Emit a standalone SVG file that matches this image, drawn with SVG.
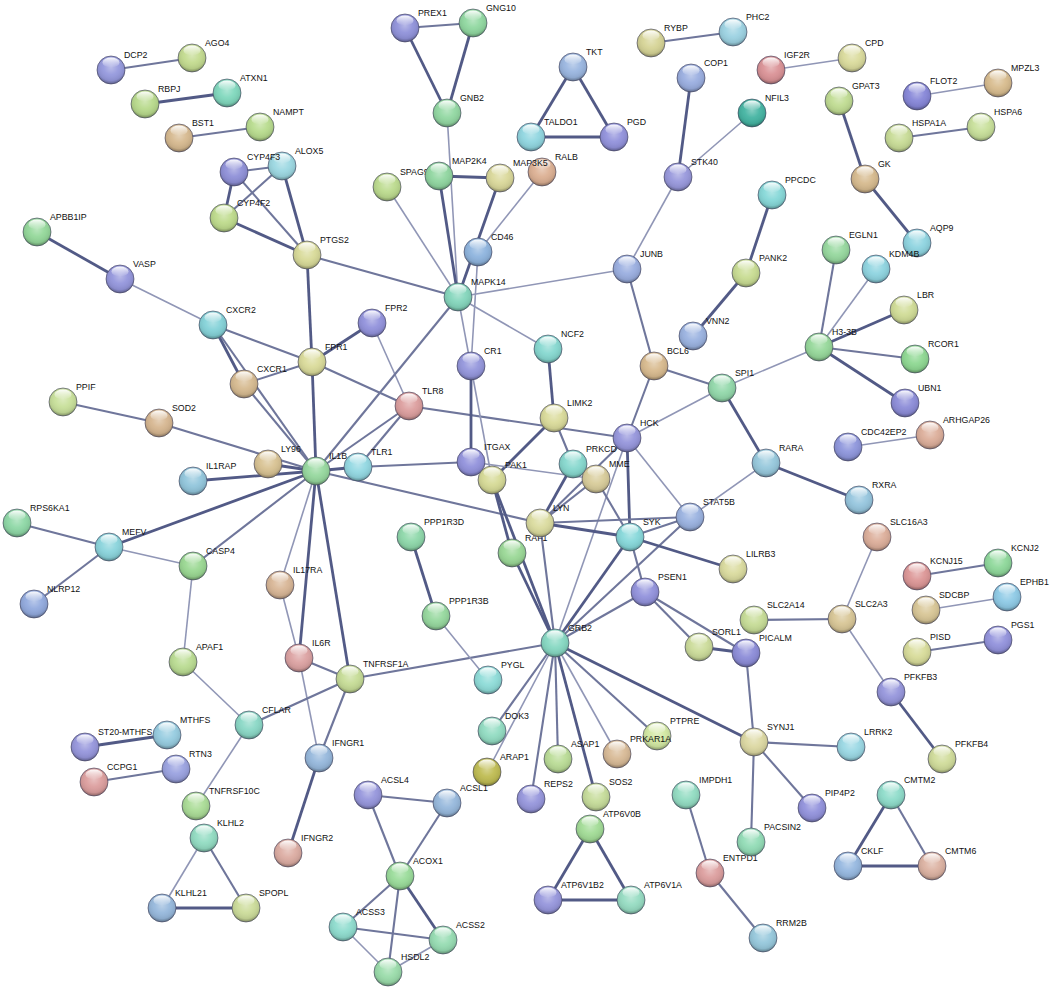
<svg xmlns="http://www.w3.org/2000/svg" xmlns:xlink="http://www.w3.org/1999/xlink" width="1052" height="992" viewBox="0 0 1052 992">
<style>
.s{stroke:#9096b6;stroke-width:1.6}
.m{stroke:#6f769b;stroke-width:2.1}
.t{stroke:#525a86;stroke-width:2.8}
text{font-family:"Liberation Sans",Arial,sans-serif;font-size:8.8px;fill:#111}
</style>
<defs>
<radialGradient id="shade" cx="50%" cy="40%" r="60%">
<stop offset="0" stop-color="#fff" stop-opacity="0.35"/>
<stop offset="0.45" stop-color="#fff" stop-opacity="0.05"/>
<stop offset="0.8" stop-color="#000" stop-opacity="0.08"/>
<stop offset="1" stop-color="#000" stop-opacity="0.38"/>
</radialGradient>
<linearGradient id="hl" x1="0" y1="0" x2="0" y2="1">
<stop offset="0" stop-color="#fff" stop-opacity="0.95"/>
<stop offset="1" stop-color="#fff" stop-opacity="0"/>
</linearGradient>
<g id="gl"><circle r="14" fill="url(#shade)" stroke="#3e3e58" stroke-opacity="0.6" stroke-width="1"/><ellipse cy="-7.5" rx="8.5" ry="5" fill="url(#hl)"/></g>
</defs>
<rect width="1052" height="992" fill="#fff"/>
<g id="edges" fill="none">
<line class="m" x1="111" y1="70" x2="192" y2="58"/>
<line class="t" x1="145" y1="104" x2="227" y2="93"/>
<line class="m" x1="179" y1="138" x2="260" y2="127"/>
<line class="m" x1="234" y1="172" x2="282" y2="166"/>
<line class="t" x1="234" y1="172" x2="224" y2="218"/>
<line class="m" x1="234" y1="172" x2="307" y2="255"/>
<line class="m" x1="282" y1="166" x2="224" y2="218"/>
<line class="t" x1="282" y1="166" x2="307" y2="255"/>
<line class="t" x1="224" y1="218" x2="307" y2="255"/>
<line class="m" x1="307" y1="255" x2="458" y2="297"/>
<line class="t" x1="307" y1="255" x2="312" y2="362"/>
<line class="t" x1="312" y1="362" x2="316" y2="471"/>
<line class="t" x1="37" y1="232" x2="120" y2="279"/>
<line class="s" x1="120" y1="279" x2="213" y2="325"/>
<line class="m" x1="213" y1="325" x2="312" y2="362"/>
<line class="t" x1="213" y1="325" x2="244" y2="384"/>
<line class="m" x1="213" y1="325" x2="316" y2="471"/>
<line class="m" x1="244" y1="384" x2="316" y2="471"/>
<line class="m" x1="244" y1="384" x2="312" y2="362"/>
<line class="t" x1="372" y1="323" x2="312" y2="362"/>
<line class="s" x1="372" y1="323" x2="409" y2="406"/>
<line class="m" x1="312" y1="362" x2="409" y2="406"/>
<line class="m" x1="409" y1="406" x2="627" y2="438"/>
<line class="m" x1="409" y1="406" x2="316" y2="471"/>
<line class="m" x1="358" y1="467" x2="409" y2="406"/>
<line class="t" x1="316" y1="471" x2="358" y2="467"/>
<line class="m" x1="358" y1="467" x2="471" y2="462"/>
<line class="m" x1="316" y1="471" x2="540" y2="523"/>
<line class="m" x1="316" y1="471" x2="458" y2="297"/>
<line class="t" x1="316" y1="471" x2="268" y2="464"/>
<line class="t" x1="316" y1="471" x2="193" y2="481"/>
<line class="m" x1="316" y1="471" x2="159" y2="423"/>
<line class="m" x1="63" y1="402" x2="159" y2="423"/>
<line class="t" x1="109" y1="547" x2="316" y2="471"/>
<line class="m" x1="193" y1="566" x2="316" y2="471"/>
<line class="m" x1="109" y1="547" x2="17" y2="523"/>
<line class="m" x1="109" y1="547" x2="34" y2="604"/>
<line class="s" x1="109" y1="547" x2="193" y2="566"/>
<line class="s" x1="193" y1="566" x2="183" y2="662"/>
<line class="s" x1="316" y1="471" x2="280" y2="585"/>
<line class="t" x1="316" y1="471" x2="299" y2="658"/>
<line class="t" x1="316" y1="471" x2="350" y2="679"/>
<line class="s" x1="280" y1="585" x2="299" y2="658"/>
<line class="m" x1="299" y1="658" x2="350" y2="679"/>
<line class="s" x1="299" y1="658" x2="319" y2="758"/>
<line class="m" x1="350" y1="679" x2="319" y2="758"/>
<line class="m" x1="350" y1="679" x2="249" y2="725"/>
<line class="m" x1="350" y1="679" x2="555" y2="643"/>
<line class="t" x1="319" y1="758" x2="288" y2="853"/>
<line class="s" x1="183" y1="662" x2="249" y2="725"/>
<line class="s" x1="249" y1="725" x2="196" y2="806"/>
<line class="s" x1="447" y1="113" x2="458" y2="297"/>
<line class="m" x1="405" y1="28" x2="473" y2="23"/>
<line class="t" x1="405" y1="28" x2="447" y2="113"/>
<line class="t" x1="473" y1="23" x2="447" y2="113"/>
<line class="t" x1="439" y1="176" x2="458" y2="297"/>
<line class="t" x1="439" y1="176" x2="500" y2="178"/>
<line class="t" x1="500" y1="178" x2="458" y2="297"/>
<line class="s" x1="542" y1="172" x2="478" y2="252"/>
<line class="s" x1="478" y1="252" x2="471" y2="366"/>
<line class="s" x1="387" y1="187" x2="458" y2="297"/>
<line class="s" x1="458" y1="297" x2="627" y2="269"/>
<line class="s" x1="458" y1="297" x2="548" y2="349"/>
<line class="s" x1="458" y1="297" x2="492" y2="480"/>
<line class="t" x1="573" y1="67" x2="531" y2="137"/>
<line class="t" x1="573" y1="67" x2="614" y2="137"/>
<line class="t" x1="531" y1="137" x2="614" y2="137"/>
<line class="m" x1="651" y1="43" x2="733" y2="32"/>
<line class="s" x1="771" y1="70" x2="852" y2="58"/>
<line class="t" x1="691" y1="78" x2="678" y2="177"/>
<line class="s" x1="752" y1="113" x2="678" y2="177"/>
<line class="s" x1="678" y1="177" x2="627" y2="269"/>
<line class="m" x1="627" y1="269" x2="654" y2="366"/>
<line class="s" x1="917" y1="96" x2="998" y2="83"/>
<line class="t" x1="839" y1="101" x2="865" y2="179"/>
<line class="t" x1="865" y1="179" x2="917" y2="243"/>
<line class="m" x1="899" y1="138" x2="981" y2="127"/>
<line class="t" x1="772" y1="195" x2="746" y2="273"/>
<line class="t" x1="746" y1="273" x2="693" y2="336"/>
<line class="m" x1="836" y1="250" x2="819" y2="347"/>
<line class="s" x1="876" y1="269" x2="819" y2="347"/>
<line class="t" x1="904" y1="310" x2="819" y2="347"/>
<line class="m" x1="819" y1="347" x2="915" y2="359"/>
<line class="t" x1="819" y1="347" x2="905" y2="403"/>
<line class="s" x1="819" y1="347" x2="722" y2="388"/>
<line class="m" x1="654" y1="366" x2="722" y2="388"/>
<line class="m" x1="654" y1="366" x2="627" y2="438"/>
<line class="s" x1="722" y1="388" x2="627" y2="438"/>
<line class="t" x1="722" y1="388" x2="766" y2="463"/>
<line class="t" x1="766" y1="463" x2="859" y2="500"/>
<line class="s" x1="766" y1="463" x2="690" y2="517"/>
<line class="s" x1="848" y1="447" x2="930" y2="435"/>
<line class="t" x1="548" y1="349" x2="554" y2="418"/>
<line class="m" x1="554" y1="418" x2="573" y2="464"/>
<line class="t" x1="554" y1="418" x2="492" y2="480"/>
<line class="t" x1="471" y1="366" x2="471" y2="462"/>
<line class="s" x1="471" y1="462" x2="596" y2="479"/>
<line class="t" x1="627" y1="438" x2="630" y2="537"/>
<line class="s" x1="627" y1="438" x2="690" y2="517"/>
<line class="m" x1="627" y1="438" x2="540" y2="523"/>
<line class="s" x1="627" y1="438" x2="555" y2="643"/>
<line class="m" x1="690" y1="517" x2="630" y2="537"/>
<line class="m" x1="690" y1="517" x2="540" y2="523"/>
<line class="m" x1="690" y1="517" x2="555" y2="643"/>
<line class="t" x1="630" y1="537" x2="540" y2="523"/>
<line class="t" x1="630" y1="537" x2="733" y2="569"/>
<line class="t" x1="630" y1="537" x2="555" y2="643"/>
<line class="m" x1="630" y1="537" x2="645" y2="592"/>
<line class="m" x1="596" y1="479" x2="630" y2="537"/>
<line class="t" x1="540" y1="523" x2="573" y2="464"/>
<line class="m" x1="540" y1="523" x2="596" y2="479"/>
<line class="t" x1="492" y1="480" x2="512" y2="553"/>
<line class="t" x1="492" y1="480" x2="555" y2="643"/>
<line class="t" x1="512" y1="553" x2="555" y2="643"/>
<line class="m" x1="540" y1="523" x2="555" y2="643"/>
<line class="m" x1="645" y1="592" x2="555" y2="643"/>
<line class="m" x1="645" y1="592" x2="699" y2="647"/>
<line class="m" x1="645" y1="592" x2="746" y2="653"/>
<line class="t" x1="699" y1="647" x2="746" y2="653"/>
<line class="m" x1="746" y1="653" x2="754" y2="742"/>
<line class="m" x1="754" y1="620" x2="842" y2="619"/>
<line class="s" x1="842" y1="619" x2="877" y2="537"/>
<line class="s" x1="842" y1="619" x2="891" y2="692"/>
<line class="t" x1="891" y1="692" x2="942" y2="759"/>
<line class="m" x1="917" y1="576" x2="998" y2="563"/>
<line class="s" x1="926" y1="610" x2="1007" y2="597"/>
<line class="m" x1="917" y1="652" x2="998" y2="640"/>
<line class="t" x1="411" y1="537" x2="436" y2="616"/>
<line class="s" x1="436" y1="616" x2="488" y2="680"/>
<line class="m" x1="555" y1="643" x2="492" y2="731"/>
<line class="s" x1="555" y1="643" x2="487" y2="772"/>
<line class="m" x1="555" y1="643" x2="531" y2="799"/>
<line class="m" x1="555" y1="643" x2="558" y2="759"/>
<line class="t" x1="555" y1="643" x2="596" y2="797"/>
<line class="s" x1="555" y1="643" x2="617" y2="754"/>
<line class="m" x1="555" y1="643" x2="657" y2="736"/>
<line class="t" x1="555" y1="643" x2="754" y2="742"/>
<line class="m" x1="754" y1="742" x2="851" y2="747"/>
<line class="m" x1="754" y1="742" x2="812" y2="808"/>
<line class="m" x1="754" y1="742" x2="751" y2="842"/>
<line class="m" x1="686" y1="795" x2="710" y2="873"/>
<line class="m" x1="710" y1="873" x2="763" y2="938"/>
<line class="t" x1="590" y1="829" x2="548" y2="900"/>
<line class="t" x1="590" y1="829" x2="631" y2="900"/>
<line class="t" x1="548" y1="900" x2="631" y2="900"/>
<line class="m" x1="368" y1="795" x2="447" y2="803"/>
<line class="m" x1="368" y1="795" x2="400" y2="876"/>
<line class="m" x1="447" y1="803" x2="400" y2="876"/>
<line class="m" x1="400" y1="876" x2="343" y2="927"/>
<line class="m" x1="400" y1="876" x2="388" y2="972"/>
<line class="t" x1="400" y1="876" x2="443" y2="940"/>
<line class="m" x1="343" y1="927" x2="443" y2="940"/>
<line class="s" x1="343" y1="927" x2="388" y2="972"/>
<line class="s" x1="443" y1="940" x2="388" y2="972"/>
<line class="t" x1="891" y1="795" x2="848" y2="866"/>
<line class="m" x1="891" y1="795" x2="932" y2="866"/>
<line class="t" x1="848" y1="866" x2="932" y2="866"/>
<line class="s" x1="204" y1="838" x2="162" y2="908"/>
<line class="m" x1="204" y1="838" x2="246" y2="908"/>
<line class="t" x1="162" y1="908" x2="246" y2="908"/>
<line class="t" x1="85" y1="747" x2="167" y2="735"/>
<line class="m" x1="94" y1="782" x2="176" y2="769"/>
</g>
<g id="nodes">
<g id="n-DCP2" transform="translate(111,70)"><circle r="14" fill="#9599dd"/><use href="#gl"/><text x="13" y="-12">DCP2</text></g>
<g id="n-AGO4" transform="translate(192,58)"><circle r="14" fill="#c3db8f"/><use href="#gl"/><text x="13" y="-12">AGO4</text></g>
<g id="n-RBPJ" transform="translate(145,104)"><circle r="14" fill="#b8da8c"/><use href="#gl"/><text x="13" y="-12">RBPJ</text></g>
<g id="n-ATXN1" transform="translate(227,93)"><circle r="14" fill="#80d8bd"/><use href="#gl"/><text x="13" y="-12">ATXN1</text></g>
<g id="n-BST1" transform="translate(179,138)"><circle r="14" fill="#d6b98f"/><use href="#gl"/><text x="13" y="-12">BST1</text></g>
<g id="n-NAMPT" transform="translate(260,127)"><circle r="14" fill="#b8dc8e"/><use href="#gl"/><text x="13" y="-12">NAMPT</text></g>
<g id="n-ALOX5" transform="translate(282,166)"><circle r="14" fill="#9cd8e2"/><use href="#gl"/><text x="13" y="-12">ALOX5</text></g>
<g id="n-CYP4F3" transform="translate(234,172)"><circle r="14" fill="#8f90d8"/><use href="#gl"/><text x="13" y="-12">CYP4F3</text></g>
<g id="n-CYP4F2" transform="translate(224,218)"><circle r="14" fill="#bedb8c"/><use href="#gl"/><text x="13" y="-12">CYP4F2</text></g>
<g id="n-PTGS2" transform="translate(307,255)"><circle r="14" fill="#d8da98"/><use href="#gl"/><text x="13" y="-12">PTGS2</text></g>
<g id="n-APBB1IP" transform="translate(37,232)"><circle r="14" fill="#94d89a"/><use href="#gl"/><text x="13" y="-12">APBB1IP</text></g>
<g id="n-VASP" transform="translate(120,279)"><circle r="14" fill="#9496dc"/><use href="#gl"/><text x="13" y="-12">VASP</text></g>
<g id="n-CXCR2" transform="translate(213,325)"><circle r="14" fill="#84d2d8"/><use href="#gl"/><text x="13" y="-12">CXCR2</text></g>
<g id="n-PREX1" transform="translate(405,28)"><circle r="14" fill="#9092da"/><use href="#gl"/><text x="13" y="-12">PREX1</text></g>
<g id="n-GNG10" transform="translate(473,23)"><circle r="14" fill="#90d8a0"/><use href="#gl"/><text x="13" y="-12">GNG10</text></g>
<g id="n-GNB2" transform="translate(447,113)"><circle r="14" fill="#92d8a2"/><use href="#gl"/><text x="13" y="-12">GNB2</text></g>
<g id="n-SPAG9" transform="translate(387,187)"><circle r="14" fill="#bcdb8e"/><use href="#gl"/><text x="13" y="-12">SPAG9</text></g>
<g id="n-MAP2K4" transform="translate(439,176)"><circle r="14" fill="#90d6a0"/><use href="#gl"/><text x="13" y="-12">MAP2K4</text></g>
<g id="n-RALB" transform="translate(542,172)"><circle r="14" fill="#dcb093"/><use href="#gl"/><text x="13" y="-12">RALB</text></g>
<g id="n-MAP3K5" transform="translate(500,178)"><circle r="14" fill="#dad89a"/><use href="#gl"/><text x="13" y="-12">MAP3K5</text></g>
<g id="n-TKT" transform="translate(573,67)"><circle r="14" fill="#9ab6e0"/><use href="#gl"/><text x="13" y="-12">TKT</text></g>
<g id="n-TALDO1" transform="translate(531,137)"><circle r="14" fill="#90d6e0"/><use href="#gl"/><text x="13" y="-12">TALDO1</text></g>
<g id="n-PGD" transform="translate(614,137)"><circle r="14" fill="#9292dc"/><use href="#gl"/><text x="13" y="-12">PGD</text></g>
<g id="n-CD46" transform="translate(478,252)"><circle r="14" fill="#8eb4de"/><use href="#gl"/><text x="13" y="-12">CD46</text></g>
<g id="n-MAPK14" transform="translate(458,297)"><circle r="14" fill="#84d6bc"/><use href="#gl"/><text x="13" y="-12">MAPK14</text></g>
<g id="n-RYBP" transform="translate(651,43)"><circle r="14" fill="#d6d496"/><use href="#gl"/><text x="13" y="-12">RYBP</text></g>
<g id="n-PHC2" transform="translate(733,32)"><circle r="14" fill="#9cd2e2"/><use href="#gl"/><text x="13" y="-12">PHC2</text></g>
<g id="n-COP1" transform="translate(691,78)"><circle r="14" fill="#9aaee0"/><use href="#gl"/><text x="13" y="-12">COP1</text></g>
<g id="n-IGF2R" transform="translate(771,70)"><circle r="14" fill="#da9296"/><use href="#gl"/><text x="13" y="-12">IGF2R</text></g>
<g id="n-CPD" transform="translate(852,58)"><circle r="14" fill="#dadb9c"/><use href="#gl"/><text x="13" y="-12">CPD</text></g>
<g id="n-NFIL3" transform="translate(752,113)"><circle r="14" fill="#44b4a2"/><use href="#gl"/><text x="13" y="-12">NFIL3</text></g>
<g id="n-STK40" transform="translate(678,177)"><circle r="14" fill="#9898dc"/><use href="#gl"/><text x="13" y="-12">STK40</text></g>
<g id="n-FLOT2" transform="translate(917,96)"><circle r="14" fill="#8686d8"/><use href="#gl"/><text x="13" y="-12">FLOT2</text></g>
<g id="n-MPZL3" transform="translate(998,83)"><circle r="14" fill="#d8bc8e"/><use href="#gl"/><text x="13" y="-12">MPZL3</text></g>
<g id="n-GPAT3" transform="translate(839,101)"><circle r="14" fill="#c0dc92"/><use href="#gl"/><text x="13" y="-12">GPAT3</text></g>
<g id="n-HSPA1A" transform="translate(899,138)"><circle r="14" fill="#c8dc96"/><use href="#gl"/><text x="13" y="-12">HSPA1A</text></g>
<g id="n-HSPA6" transform="translate(981,127)"><circle r="14" fill="#c8e09a"/><use href="#gl"/><text x="13" y="-12">HSPA6</text></g>
<g id="n-GK" transform="translate(865,179)"><circle r="14" fill="#d6ba8e"/><use href="#gl"/><text x="13" y="-12">GK</text></g>
<g id="n-PPCDC" transform="translate(772,195)"><circle r="14" fill="#86d8d8"/><use href="#gl"/><text x="13" y="-12">PPCDC</text></g>
<g id="n-PANK2" transform="translate(746,273)"><circle r="14" fill="#c8dc92"/><use href="#gl"/><text x="13" y="-12">PANK2</text></g>
<g id="n-JUNB" transform="translate(627,269)"><circle r="14" fill="#9aaee0"/><use href="#gl"/><text x="13" y="-12">JUNB</text></g>
<g id="n-AQP9" transform="translate(917,243)"><circle r="14" fill="#8ed4e0"/><use href="#gl"/><text x="13" y="-12">AQP9</text></g>
<g id="n-EGLN1" transform="translate(836,250)"><circle r="14" fill="#96d89e"/><use href="#gl"/><text x="13" y="-12">EGLN1</text></g>
<g id="n-KDM4B" transform="translate(876,269)"><circle r="14" fill="#8ed4e0"/><use href="#gl"/><text x="13" y="-12">KDM4B</text></g>
<g id="n-LBR" transform="translate(904,310)"><circle r="14" fill="#d0dc96"/><use href="#gl"/><text x="13" y="-12">LBR</text></g>
<g id="n-H3-3B" transform="translate(819,347)"><circle r="14" fill="#96d89a"/><use href="#gl"/><text x="13" y="-12">H3-3B</text></g>
<g id="n-RCOR1" transform="translate(915,359)"><circle r="14" fill="#8ed892"/><use href="#gl"/><text x="13" y="-12">RCOR1</text></g>
<g id="n-UBN1" transform="translate(905,403)"><circle r="14" fill="#8c8cd8"/><use href="#gl"/><text x="13" y="-12">UBN1</text></g>
<g id="n-VNN2" transform="translate(693,336)"><circle r="14" fill="#9ab2e0"/><use href="#gl"/><text x="13" y="-12">VNN2</text></g>
<g id="n-BCL6" transform="translate(654,366)"><circle r="14" fill="#d8ba8e"/><use href="#gl"/><text x="13" y="-12">BCL6</text></g>
<g id="n-NCF2" transform="translate(548,349)"><circle r="14" fill="#86d8d0"/><use href="#gl"/><text x="13" y="-12">NCF2</text></g>
<g id="n-SPI1" transform="translate(722,388)"><circle r="14" fill="#92d8aa"/><use href="#gl"/><text x="13" y="-12">SPI1</text></g>
<g id="n-CDC42EP2" transform="translate(848,447)"><circle r="14" fill="#8e96dc"/><use href="#gl"/><text x="13" y="-12">CDC42EP2</text></g>
<g id="n-ARHGAP26" transform="translate(930,435)"><circle r="14" fill="#dcae9a"/><use href="#gl"/><text x="13" y="-12">ARHGAP26</text></g>
<g id="n-CR1" transform="translate(471,366)"><circle r="14" fill="#9496dc"/><use href="#gl"/><text x="13" y="-12">CR1</text></g>
<g id="n-FPR2" transform="translate(372,323)"><circle r="14" fill="#9292dc"/><use href="#gl"/><text x="13" y="-12">FPR2</text></g>
<g id="n-FPR1" transform="translate(312,362)"><circle r="14" fill="#dadb9a"/><use href="#gl"/><text x="13" y="-12">FPR1</text></g>
<g id="n-CXCR1" transform="translate(244,384)"><circle r="14" fill="#d6ba90"/><use href="#gl"/><text x="13" y="-12">CXCR1</text></g>
<g id="n-TLR8" transform="translate(409,406)"><circle r="14" fill="#dc9e9e"/><use href="#gl"/><text x="13" y="-12">TLR8</text></g>
<g id="n-LIMK2" transform="translate(554,418)"><circle r="14" fill="#dadb9a"/><use href="#gl"/><text x="13" y="-12">LIMK2</text></g>
<g id="n-RARA" transform="translate(766,463)"><circle r="14" fill="#96c8dc"/><use href="#gl"/><text x="13" y="-12">RARA</text></g>
<g id="n-RXRA" transform="translate(859,500)"><circle r="14" fill="#96c6de"/><use href="#gl"/><text x="13" y="-12">RXRA</text></g>
<g id="n-PPIF" transform="translate(63,402)"><circle r="14" fill="#c8e09a"/><use href="#gl"/><text x="13" y="-12">PPIF</text></g>
<g id="n-SOD2" transform="translate(159,423)"><circle r="14" fill="#d6b690"/><use href="#gl"/><text x="13" y="-12">SOD2</text></g>
<g id="n-TLR1" transform="translate(358,467)"><circle r="14" fill="#92d8e2"/><use href="#gl"/><text x="13" y="-12">TLR1</text></g>
<g id="n-IL1B" transform="translate(316,471)"><circle r="14" fill="#96d89e"/><use href="#gl"/><text x="13" y="-12">IL1B</text></g>
<g id="n-LY96" transform="translate(268,464)"><circle r="14" fill="#d8c292"/><use href="#gl"/><text x="13" y="-12">LY96</text></g>
<g id="n-IL1RAP" transform="translate(193,481)"><circle r="14" fill="#92c6dc"/><use href="#gl"/><text x="13" y="-12">IL1RAP</text></g>
<g id="n-ITGAX" transform="translate(471,462)"><circle r="14" fill="#9292dc"/><use href="#gl"/><text x="13" y="-12">ITGAX</text></g>
<g id="n-PAK1" transform="translate(492,480)"><circle r="14" fill="#d6da96"/><use href="#gl"/><text x="13" y="-12">PAK1</text></g>
<g id="n-HCK" transform="translate(627,438)"><circle r="14" fill="#9696dc"/><use href="#gl"/><text x="13" y="-12">HCK</text></g>
<g id="n-PRKCD" transform="translate(573,464)"><circle r="14" fill="#86d8ce"/><use href="#gl"/><text x="13" y="-12">PRKCD</text></g>
<g id="n-MME" transform="translate(596,479)"><circle r="14" fill="#d8cc9a"/><use href="#gl"/><text x="13" y="-12">MME</text></g>
<g id="n-STAT5B" transform="translate(690,517)"><circle r="14" fill="#9ab2e0"/><use href="#gl"/><text x="13" y="-12">STAT5B</text></g>
<g id="n-RAF1" transform="translate(512,553)"><circle r="14" fill="#9ad896"/><use href="#gl"/><text x="13" y="-12">RAF1</text></g>
<g id="n-LYN" transform="translate(540,523)"><circle r="14" fill="#dadb9e"/><use href="#gl"/><text x="13" y="-12">LYN</text></g>
<g id="n-SYK" transform="translate(630,537)"><circle r="14" fill="#86d8da"/><use href="#gl"/><text x="13" y="-12">SYK</text></g>
<g id="n-LILRB3" transform="translate(733,569)"><circle r="14" fill="#dadb9e"/><use href="#gl"/><text x="13" y="-12">LILRB3</text></g>
<g id="n-SLC16A3" transform="translate(877,537)"><circle r="14" fill="#dcae9a"/><use href="#gl"/><text x="13" y="-12">SLC16A3</text></g>
<g id="n-KCNJ15" transform="translate(917,576)"><circle r="14" fill="#dc9696"/><use href="#gl"/><text x="13" y="-12">KCNJ15</text></g>
<g id="n-KCNJ2" transform="translate(998,563)"><circle r="14" fill="#8ed89a"/><use href="#gl"/><text x="13" y="-12">KCNJ2</text></g>
<g id="n-SDCBP" transform="translate(926,610)"><circle r="14" fill="#d8c696"/><use href="#gl"/><text x="13" y="-12">SDCBP</text></g>
<g id="n-EPHB1" transform="translate(1007,597)"><circle r="14" fill="#8ecae6"/><use href="#gl"/><text x="13" y="-12">EPHB1</text></g>
<g id="n-PISD" transform="translate(917,652)"><circle r="14" fill="#d8dc9a"/><use href="#gl"/><text x="13" y="-12">PISD</text></g>
<g id="n-PGS1" transform="translate(998,640)"><circle r="14" fill="#9292dc"/><use href="#gl"/><text x="13" y="-12">PGS1</text></g>
<g id="n-RPS6KA1" transform="translate(17,523)"><circle r="14" fill="#8ed8a6"/><use href="#gl"/><text x="13" y="-12">RPS6KA1</text></g>
<g id="n-MEFV" transform="translate(109,547)"><circle r="14" fill="#8ad4dc"/><use href="#gl"/><text x="13" y="-12">MEFV</text></g>
<g id="n-NLRP12" transform="translate(34,604)"><circle r="14" fill="#92aade"/><use href="#gl"/><text x="13" y="-12">NLRP12</text></g>
<g id="n-CASP4" transform="translate(193,566)"><circle r="14" fill="#9ad892"/><use href="#gl"/><text x="13" y="-12">CASP4</text></g>
<g id="n-PPP1R3D" transform="translate(411,537)"><circle r="14" fill="#8ed8aa"/><use href="#gl"/><text x="13" y="-12">PPP1R3D</text></g>
<g id="n-IL17RA" transform="translate(280,585)"><circle r="14" fill="#d8b696"/><use href="#gl"/><text x="13" y="-12">IL17RA</text></g>
<g id="n-PPP1R3B" transform="translate(436,616)"><circle r="14" fill="#96d89e"/><use href="#gl"/><text x="13" y="-12">PPP1R3B</text></g>
<g id="n-PSEN1" transform="translate(645,592)"><circle r="14" fill="#9292dc"/><use href="#gl"/><text x="13" y="-12">PSEN1</text></g>
<g id="n-SLC2A14" transform="translate(754,620)"><circle r="14" fill="#c6dc96"/><use href="#gl"/><text x="13" y="-12">SLC2A14</text></g>
<g id="n-SLC2A3" transform="translate(842,619)"><circle r="14" fill="#d8c696"/><use href="#gl"/><text x="13" y="-12">SLC2A3</text></g>
<g id="n-PICALM" transform="translate(746,653)"><circle r="14" fill="#8c8cd8"/><use href="#gl"/><text x="13" y="-12">PICALM</text></g>
<g id="n-SORL1" transform="translate(699,647)"><circle r="14" fill="#ccdc9a"/><use href="#gl"/><text x="13" y="-12">SORL1</text></g>
<g id="n-GRB2" transform="translate(555,643)"><circle r="14" fill="#86d8c2"/><use href="#gl"/><text x="13" y="-12">GRB2</text></g>
<g id="n-IL6R" transform="translate(299,658)"><circle r="14" fill="#dca2a2"/><use href="#gl"/><text x="13" y="-12">IL6R</text></g>
<g id="n-TNFRSF1A" transform="translate(350,679)"><circle r="14" fill="#c6dc96"/><use href="#gl"/><text x="13" y="-12">TNFRSF1A</text></g>
<g id="n-APAF1" transform="translate(183,662)"><circle r="14" fill="#badc92"/><use href="#gl"/><text x="13" y="-12">APAF1</text></g>
<g id="n-PYGL" transform="translate(488,680)"><circle r="14" fill="#8edcd8"/><use href="#gl"/><text x="13" y="-12">PYGL</text></g>
<g id="n-PFKFB3" transform="translate(891,692)"><circle r="14" fill="#9696dc"/><use href="#gl"/><text x="13" y="-12">PFKFB3</text></g>
<g id="n-CFLAR" transform="translate(249,725)"><circle r="14" fill="#8ad8c6"/><use href="#gl"/><text x="13" y="-12">CFLAR</text></g>
<g id="n-IFNGR1" transform="translate(319,758)"><circle r="14" fill="#96b8dc"/><use href="#gl"/><text x="13" y="-12">IFNGR1</text></g>
<g id="n-DOK3" transform="translate(492,731)"><circle r="14" fill="#92dcc2"/><use href="#gl"/><text x="13" y="-12">DOK3</text></g>
<g id="n-ARAP1" transform="translate(487,772)"><circle r="14" fill="#bfbc52"/><use href="#gl"/><text x="13" y="-12">ARAP1</text></g>
<g id="n-ASAP1" transform="translate(558,759)"><circle r="14" fill="#badc96"/><use href="#gl"/><text x="13" y="-12">ASAP1</text></g>
<g id="n-PTPRE" transform="translate(657,736)"><circle r="14" fill="#d2e8a2"/><use href="#gl"/><text x="13" y="-12">PTPRE</text></g>
<g id="n-PRKAR1A" transform="translate(617,754)"><circle r="14" fill="#d8ba96"/><use href="#gl"/><text x="13" y="-12">PRKAR1A</text></g>
<g id="n-SYNJ1" transform="translate(754,742)"><circle r="14" fill="#dcd8a2"/><use href="#gl"/><text x="13" y="-12">SYNJ1</text></g>
<g id="n-LRRK2" transform="translate(851,747)"><circle r="14" fill="#9ad8e4"/><use href="#gl"/><text x="13" y="-12">LRRK2</text></g>
<g id="n-PFKFB4" transform="translate(942,759)"><circle r="14" fill="#d0dc9a"/><use href="#gl"/><text x="13" y="-12">PFKFB4</text></g>
<g id="n-MTHFS" transform="translate(167,735)"><circle r="14" fill="#96cce0"/><use href="#gl"/><text x="13" y="-12">MTHFS</text></g>
<g id="n-ST20-MTHFS" transform="translate(85,747)"><circle r="14" fill="#9696dc"/><use href="#gl"/><text x="13" y="-12">ST20-MTHFS</text></g>
<g id="n-RTN3" transform="translate(176,769)"><circle r="14" fill="#9aa2e0"/><use href="#gl"/><text x="13" y="-12">RTN3</text></g>
<g id="n-CCPG1" transform="translate(94,782)"><circle r="14" fill="#dc9e9e"/><use href="#gl"/><text x="13" y="-12">CCPG1</text></g>
<g id="n-TNFRSF10C" transform="translate(196,806)"><circle r="14" fill="#aadc96"/><use href="#gl"/><text x="13" y="-12">TNFRSF10C</text></g>
<g id="n-ACSL4" transform="translate(368,795)"><circle r="14" fill="#9696dc"/><use href="#gl"/><text x="13" y="-12">ACSL4</text></g>
<g id="n-ACSL1" transform="translate(447,803)"><circle r="14" fill="#96b8dc"/><use href="#gl"/><text x="13" y="-12">ACSL1</text></g>
<g id="n-REPS2" transform="translate(531,799)"><circle r="14" fill="#9696dc"/><use href="#gl"/><text x="13" y="-12">REPS2</text></g>
<g id="n-SOS2" transform="translate(596,797)"><circle r="14" fill="#c6dc9a"/><use href="#gl"/><text x="13" y="-12">SOS2</text></g>
<g id="n-IMPDH1" transform="translate(686,795)"><circle r="14" fill="#92dcc2"/><use href="#gl"/><text x="13" y="-12">IMPDH1</text></g>
<g id="n-PIP4P2" transform="translate(812,808)"><circle r="14" fill="#9292dc"/><use href="#gl"/><text x="13" y="-12">PIP4P2</text></g>
<g id="n-CMTM2" transform="translate(891,795)"><circle r="14" fill="#8edcca"/><use href="#gl"/><text x="13" y="-12">CMTM2</text></g>
<g id="n-KLHL2" transform="translate(204,838)"><circle r="14" fill="#92dcc2"/><use href="#gl"/><text x="13" y="-12">KLHL2</text></g>
<g id="n-ATP6V0B" transform="translate(590,829)"><circle r="14" fill="#a2dc96"/><use href="#gl"/><text x="13" y="-12">ATP6V0B</text></g>
<g id="n-ENTPD1" transform="translate(710,873)"><circle r="14" fill="#dc9e9e"/><use href="#gl"/><text x="13" y="-12">ENTPD1</text></g>
<g id="n-PACSIN2" transform="translate(751,842)"><circle r="14" fill="#92dcb6"/><use href="#gl"/><text x="13" y="-12">PACSIN2</text></g>
<g id="n-IFNGR2" transform="translate(288,853)"><circle r="14" fill="#dcaca2"/><use href="#gl"/><text x="13" y="-12">IFNGR2</text></g>
<g id="n-ACOX1" transform="translate(400,876)"><circle r="14" fill="#9adc9a"/><use href="#gl"/><text x="13" y="-12">ACOX1</text></g>
<g id="n-CKLF" transform="translate(848,866)"><circle r="14" fill="#96b8e0"/><use href="#gl"/><text x="13" y="-12">CKLF</text></g>
<g id="n-CMTM6" transform="translate(932,866)"><circle r="14" fill="#dcb2a2"/><use href="#gl"/><text x="13" y="-12">CMTM6</text></g>
<g id="n-KLHL21" transform="translate(162,908)"><circle r="14" fill="#96b8dc"/><use href="#gl"/><text x="13" y="-12">KLHL21</text></g>
<g id="n-SPOPL" transform="translate(246,908)"><circle r="14" fill="#ccdc9a"/><use href="#gl"/><text x="13" y="-12">SPOPL</text></g>
<g id="n-ACSS3" transform="translate(343,927)"><circle r="14" fill="#8edcce"/><use href="#gl"/><text x="13" y="-12">ACSS3</text></g>
<g id="n-ACSS2" transform="translate(443,940)"><circle r="14" fill="#96dcb2"/><use href="#gl"/><text x="13" y="-12">ACSS2</text></g>
<g id="n-ATP6V1B2" transform="translate(548,900)"><circle r="14" fill="#9696dc"/><use href="#gl"/><text x="13" y="-12">ATP6V1B2</text></g>
<g id="n-ATP6V1A" transform="translate(631,900)"><circle r="14" fill="#96dcc2"/><use href="#gl"/><text x="13" y="-12">ATP6V1A</text></g>
<g id="n-HSDL2" transform="translate(388,972)"><circle r="14" fill="#9adcaa"/><use href="#gl"/><text x="13" y="-12">HSDL2</text></g>
<g id="n-RRM2B" transform="translate(763,938)"><circle r="14" fill="#96c8dc"/><use href="#gl"/><text x="13" y="-12">RRM2B</text></g>
</g>
</svg>
